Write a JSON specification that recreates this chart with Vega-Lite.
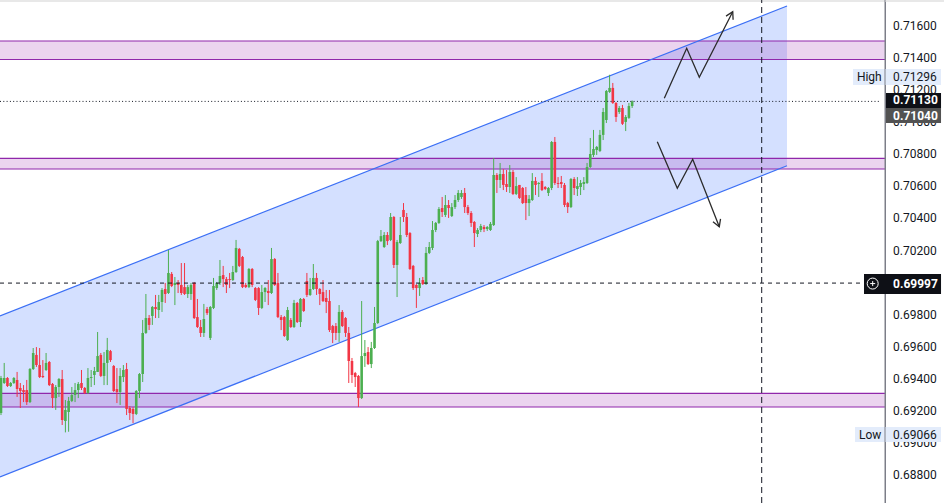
{
  "$schema": "https://vega.github.io/schema/vega-lite/v6.json",
  "width": 885,
  "height": 503,
  "padding": {"left": 0, "top": 0, "right": 59, "bottom": 0},
  "autosize": {"type": "none"},
  "background": "#ffffff",
  "config": {"view": {"stroke": null}, "font": "Roboto", "axis": {"title": null, "grid": false}},
  "datasets": {
    "strip": [{"t": 0.69, "t2": 293.86, "hi": 0.717623, "lo": 0.717498}],
    "channel": [
      {"t": 0.69, "hi": 0.697917, "lo": 0.687877},
      {"t": 245.1, "hi": 0.717249, "lo": 0.70729}
    ],
    "rails": [
      {"t": 0.69, "t2": 245.1, "p": 0.697917, "p2": 0.717249},
      {"t": 0.69, "t2": 245.1, "p": 0.687877, "p2": 0.70729}
    ],
    "zones": [
      {"t": 0.69, "t2": 275.53, "hi": 0.715066, "lo": 0.713913},
      {"t": 0.69, "t2": 275.53, "hi": 0.707752, "lo": 0.707084},
      {"t": 0.69, "t2": 275.53, "hi": 0.693097, "lo": 0.692243}
    ],
    "levels": [
      {"kind": "dash", "t": 0.69, "t2": 269.0, "p": 0.69997, "p2": 0.69997},
      {"kind": "dot", "t": 0.69, "t2": 274.3, "p": 0.7113, "p2": 0.7113},
      {"kind": "vdash", "t": 237.24, "t2": 237.24, "p": 0.686256, "p2": 0.717623}
    ],
    "edge": [{"t": 275.53, "p": 0.686256, "p2": 0.717623}],
    "pricescale": [
      {"p": 0.688, "label": "0.68800", "at": 278.02},
      {"p": 0.69, "label": "0.69000", "at": 278.02},
      {"p": 0.692, "label": "0.69200", "at": 278.02},
      {"p": 0.694, "label": "0.69400", "at": 278.02},
      {"p": 0.696, "label": "0.69600", "at": 278.02},
      {"p": 0.698, "label": "0.69800", "at": 278.02},
      {"p": 0.7, "label": "0.70000", "at": 278.02},
      {"p": 0.702, "label": "0.70200", "at": 278.02},
      {"p": 0.704, "label": "0.70400", "at": 278.02},
      {"p": 0.706, "label": "0.70600", "at": 278.02},
      {"p": 0.708, "label": "0.70800", "at": 278.02},
      {"p": 0.71, "label": "0.71000", "at": 278.02},
      {"p": 0.712, "label": "0.71200", "at": 278.02},
      {"p": 0.714, "label": "0.71400", "at": 278.02},
      {"p": 0.716, "label": "0.71600", "at": 278.02}
    ],
    "arrows": [
      {"g": "up", "k": 1, "t": 206.99, "p": 0.711493},
      {"g": "up", "k": 2, "t": 213.95, "p": 0.714611},
      {"g": "up", "k": 3, "t": 217.86, "p": 0.712803},
      {"g": "up", "k": 4, "t": 228.24, "p": 0.716893},
      {"g": "upHead", "k": 1, "t": 226.16, "p": 0.716619},
      {"g": "upHead", "k": 2, "t": 228.24, "p": 0.716893},
      {"g": "upHead", "k": 3, "t": 228.36, "p": 0.716395},
      {"g": "down", "k": 1, "t": 204.82, "p": 0.708787},
      {"g": "down", "k": 2, "t": 211.03, "p": 0.705881},
      {"g": "down", "k": 3, "t": 215.81, "p": 0.707689},
      {"g": "down", "k": 4, "t": 224.07, "p": 0.703486},
      {"g": "downHead", "k": 1, "t": 224.45, "p": 0.703979},
      {"g": "downHead", "k": 2, "t": 224.07, "p": 0.703486},
      {"g": "downHead", "k": 3, "t": 222.11, "p": 0.703798}
    ],
    "tags": [
      {"kind": "high", "name": "High", "label": "0.71296", "t": 265.6, "t2": 292.93, "hi": 0.71332, "lo": 0.712322, "p": 0.712821, "at": 278.02, "nx": 266.8},
      {"kind": "last", "label": "0.71130", "t": 275.84, "t2": 292.93, "hi": 0.711824, "lo": 0.710888, "p": 0.711356, "at": 278.02},
      {"kind": "line", "label": "0.71040", "t": 275.84, "t2": 292.93, "hi": 0.710888, "lo": 0.709953, "p": 0.71042, "at": 278.02},
      {"kind": "cross", "label": "0.69997", "t": 269.01, "t2": 292.93, "hi": 0.700537, "lo": 0.699289, "p": 0.69991, "at": 278.02, "cx": 271.71, "cp": 0.69994},
      {"kind": "low", "name": "Low", "label": "0.69066", "t": 266.22, "t2": 292.93, "hi": 0.690995, "lo": 0.69006, "p": 0.690527, "at": 278.02, "nx": 267.45}
    ],
    "candles": [
      {"t": 1, "o": 0.69187, "h": 0.69418, "l": 0.69174, "c": 0.69405},
      {"t": 2, "o": 0.69374, "h": 0.69499, "l": 0.69368, "c": 0.69405},
      {"t": 3, "o": 0.69405, "h": 0.69411, "l": 0.69349, "c": 0.69355},
      {"t": 4, "o": 0.69355, "h": 0.6938, "l": 0.69349, "c": 0.69374},
      {"t": 5, "o": 0.69374, "h": 0.69411, "l": 0.69368, "c": 0.69405},
      {"t": 6, "o": 0.69393, "h": 0.69443, "l": 0.69287, "c": 0.69336},
      {"t": 7, "o": 0.69343, "h": 0.69374, "l": 0.69218, "c": 0.69324},
      {"t": 8, "o": 0.6933, "h": 0.69361, "l": 0.69255, "c": 0.69318},
      {"t": 9, "o": 0.6933, "h": 0.69393, "l": 0.69237, "c": 0.69255},
      {"t": 10, "o": 0.69255, "h": 0.69467, "l": 0.69249, "c": 0.69461},
      {"t": 11, "o": 0.69461, "h": 0.69592, "l": 0.69455, "c": 0.69561},
      {"t": 12, "o": 0.69549, "h": 0.69598, "l": 0.69474, "c": 0.69486},
      {"t": 13, "o": 0.69486, "h": 0.69592, "l": 0.69405, "c": 0.69411},
      {"t": 14, "o": 0.69418, "h": 0.69517, "l": 0.69405, "c": 0.69411},
      {"t": 15, "o": 0.69455, "h": 0.69561, "l": 0.69449, "c": 0.69499},
      {"t": 16, "o": 0.69505, "h": 0.69511, "l": 0.69355, "c": 0.69361},
      {"t": 17, "o": 0.69368, "h": 0.69374, "l": 0.69218, "c": 0.6928},
      {"t": 18, "o": 0.6928, "h": 0.69361, "l": 0.69206, "c": 0.69349},
      {"t": 19, "o": 0.69349, "h": 0.69405, "l": 0.69287, "c": 0.69399},
      {"t": 20, "o": 0.69399, "h": 0.69455, "l": 0.69112, "c": 0.69143},
      {"t": 21, "o": 0.69137, "h": 0.69268, "l": 0.69066, "c": 0.69206},
      {"t": 22, "o": 0.69193, "h": 0.69287, "l": 0.6907, "c": 0.69262},
      {"t": 23, "o": 0.69262, "h": 0.69349, "l": 0.69255, "c": 0.69299},
      {"t": 24, "o": 0.69299, "h": 0.69374, "l": 0.69255, "c": 0.6933},
      {"t": 25, "o": 0.6933, "h": 0.6938, "l": 0.6928, "c": 0.69368},
      {"t": 26, "o": 0.69374, "h": 0.69455, "l": 0.6933, "c": 0.69343},
      {"t": 27, "o": 0.69343, "h": 0.69349, "l": 0.69305, "c": 0.69312},
      {"t": 28, "o": 0.69312, "h": 0.69467, "l": 0.69305, "c": 0.69405},
      {"t": 29, "o": 0.69405, "h": 0.69455, "l": 0.69349, "c": 0.69411},
      {"t": 30, "o": 0.69424, "h": 0.69474, "l": 0.69361, "c": 0.69449},
      {"t": 31, "o": 0.69443, "h": 0.69692, "l": 0.69443, "c": 0.69542},
      {"t": 32, "o": 0.69549, "h": 0.69561, "l": 0.69411, "c": 0.69418},
      {"t": 33, "o": 0.69418, "h": 0.69567, "l": 0.69361, "c": 0.69499},
      {"t": 34, "o": 0.69499, "h": 0.69655, "l": 0.69361, "c": 0.6958},
      {"t": 35, "o": 0.69573, "h": 0.6958, "l": 0.69505, "c": 0.69517},
      {"t": 36, "o": 0.6948, "h": 0.69486, "l": 0.69318, "c": 0.69324},
      {"t": 37, "o": 0.69336, "h": 0.69467, "l": 0.69249, "c": 0.69318},
      {"t": 38, "o": 0.69318, "h": 0.69467, "l": 0.69237, "c": 0.69418},
      {"t": 39, "o": 0.69411, "h": 0.69486, "l": 0.6938, "c": 0.69455},
      {"t": 40, "o": 0.69461, "h": 0.69499, "l": 0.69174, "c": 0.69212},
      {"t": 41, "o": 0.69218, "h": 0.6923, "l": 0.69143, "c": 0.69187},
      {"t": 42, "o": 0.69212, "h": 0.69224, "l": 0.69124, "c": 0.69181},
      {"t": 43, "o": 0.69181, "h": 0.6933, "l": 0.69174, "c": 0.69324},
      {"t": 44, "o": 0.69324, "h": 0.69436, "l": 0.6928, "c": 0.6943},
      {"t": 45, "o": 0.6943, "h": 0.69767, "l": 0.6938, "c": 0.69686},
      {"t": 46, "o": 0.69686, "h": 0.69929, "l": 0.6968, "c": 0.69779},
      {"t": 47, "o": 0.69779, "h": 0.69798, "l": 0.69704, "c": 0.69736},
      {"t": 48, "o": 0.69792, "h": 0.69854, "l": 0.69736, "c": 0.69848},
      {"t": 49, "o": 0.69848, "h": 0.69923, "l": 0.69779, "c": 0.69835},
      {"t": 50, "o": 0.69829, "h": 0.69923, "l": 0.69779, "c": 0.69879},
      {"t": 51, "o": 0.69879, "h": 0.69966, "l": 0.69817, "c": 0.69954},
      {"t": 52, "o": 0.6996, "h": 0.69998, "l": 0.69873, "c": 0.69929},
      {"t": 53, "o": 0.69935, "h": 0.70203, "l": 0.69929, "c": 0.7006},
      {"t": 54, "o": 0.70054, "h": 0.70066, "l": 0.69972, "c": 0.69979},
      {"t": 55, "o": 0.69985, "h": 0.70035, "l": 0.6986, "c": 0.69998},
      {"t": 56, "o": 0.69998, "h": 0.70016, "l": 0.69935, "c": 0.69985},
      {"t": 57, "o": 0.69985, "h": 0.70122, "l": 0.69923, "c": 0.69935},
      {"t": 58, "o": 0.69972, "h": 0.70122, "l": 0.69923, "c": 0.69929},
      {"t": 59, "o": 0.69929, "h": 0.69985, "l": 0.69904, "c": 0.69972},
      {"t": 60, "o": 0.69929, "h": 0.69998, "l": 0.69892, "c": 0.69985},
      {"t": 61, "o": 0.69998, "h": 0.70004, "l": 0.69773, "c": 0.69779},
      {"t": 62, "o": 0.69785, "h": 0.69898, "l": 0.69717, "c": 0.69723},
      {"t": 63, "o": 0.69723, "h": 0.69767, "l": 0.69661, "c": 0.69686},
      {"t": 64, "o": 0.69686, "h": 0.69867, "l": 0.69661, "c": 0.69773},
      {"t": 65, "o": 0.69835, "h": 0.69848, "l": 0.69798, "c": 0.6981},
      {"t": 66, "o": 0.69655, "h": 0.69854, "l": 0.69642, "c": 0.69848},
      {"t": 67, "o": 0.69842, "h": 0.70029, "l": 0.69835, "c": 0.69979},
      {"t": 68, "o": 0.69966, "h": 0.70004, "l": 0.69954, "c": 0.69998},
      {"t": 69, "o": 0.69998, "h": 0.70141, "l": 0.69985, "c": 0.70041},
      {"t": 70, "o": 0.70047, "h": 0.70104, "l": 0.69972, "c": 0.70022},
      {"t": 71, "o": 0.70022, "h": 0.70035, "l": 0.69935, "c": 0.69985},
      {"t": 72, "o": 0.70022, "h": 0.7006, "l": 0.69966, "c": 0.70016},
      {"t": 73, "o": 0.70016, "h": 0.70104, "l": 0.7001, "c": 0.70066},
      {"t": 74, "o": 0.70066, "h": 0.70266, "l": 0.7006, "c": 0.70216},
      {"t": 75, "o": 0.7021, "h": 0.70216, "l": 0.70097, "c": 0.70104},
      {"t": 76, "o": 0.7016, "h": 0.70166, "l": 0.69966, "c": 0.69972},
      {"t": 77, "o": 0.69985, "h": 0.69998, "l": 0.69966, "c": 0.69972},
      {"t": 78, "o": 0.69972, "h": 0.70091, "l": 0.69966, "c": 0.70085},
      {"t": 79, "o": 0.70085, "h": 0.70091, "l": 0.69972, "c": 0.69985},
      {"t": 80, "o": 0.69966, "h": 0.69972, "l": 0.69885, "c": 0.69892},
      {"t": 81, "o": 0.69966, "h": 0.69972, "l": 0.69798, "c": 0.69842},
      {"t": 82, "o": 0.69842, "h": 0.69985, "l": 0.69835, "c": 0.69941},
      {"t": 83, "o": 0.69941, "h": 0.69972, "l": 0.69879, "c": 0.69966},
      {"t": 84, "o": 0.69948, "h": 0.70016, "l": 0.6986, "c": 0.69935},
      {"t": 85, "o": 0.69935, "h": 0.70216, "l": 0.69929, "c": 0.70147},
      {"t": 86, "o": 0.70147, "h": 0.70153, "l": 0.69979, "c": 0.69985},
      {"t": 87, "o": 0.69998, "h": 0.7006, "l": 0.69779, "c": 0.69785},
      {"t": 88, "o": 0.69785, "h": 0.69798, "l": 0.69704, "c": 0.69767},
      {"t": 89, "o": 0.69785, "h": 0.69792, "l": 0.69661, "c": 0.69667},
      {"t": 90, "o": 0.69642, "h": 0.69848, "l": 0.69636, "c": 0.69829},
      {"t": 91, "o": 0.69767, "h": 0.69779, "l": 0.69717, "c": 0.69723},
      {"t": 92, "o": 0.69723, "h": 0.69892, "l": 0.69717, "c": 0.69873},
      {"t": 93, "o": 0.69873, "h": 0.69879, "l": 0.69748, "c": 0.69754},
      {"t": 94, "o": 0.69754, "h": 0.69904, "l": 0.69723, "c": 0.69898},
      {"t": 95, "o": 0.69898, "h": 0.69904, "l": 0.69817, "c": 0.69823},
      {"t": 96, "o": 0.7001, "h": 0.7006, "l": 0.6991, "c": 0.69923},
      {"t": 97, "o": 0.69923, "h": 0.70029, "l": 0.69917, "c": 0.6996},
      {"t": 98, "o": 0.6996, "h": 0.70116, "l": 0.69954, "c": 0.70029},
      {"t": 99, "o": 0.70029, "h": 0.7006, "l": 0.69923, "c": 0.6996},
      {"t": 100, "o": 0.6996, "h": 0.69966, "l": 0.6986, "c": 0.69929},
      {"t": 101, "o": 0.69941, "h": 0.70016, "l": 0.69879, "c": 0.69885},
      {"t": 102, "o": 0.69904, "h": 0.69954, "l": 0.6981, "c": 0.69879},
      {"t": 103, "o": 0.69885, "h": 0.69954, "l": 0.69692, "c": 0.69704},
      {"t": 104, "o": 0.69729, "h": 0.69736, "l": 0.69623, "c": 0.69686},
      {"t": 105, "o": 0.69729, "h": 0.69748, "l": 0.69642, "c": 0.69686},
      {"t": 106, "o": 0.69686, "h": 0.6986, "l": 0.6963, "c": 0.69817},
      {"t": 107, "o": 0.69817, "h": 0.69829, "l": 0.69723, "c": 0.69729},
      {"t": 108, "o": 0.69779, "h": 0.69785, "l": 0.69661, "c": 0.69686},
      {"t": 109, "o": 0.69686, "h": 0.69723, "l": 0.69374, "c": 0.69511},
      {"t": 110, "o": 0.69511, "h": 0.6953, "l": 0.69374, "c": 0.69424},
      {"t": 111, "o": 0.69436, "h": 0.69443, "l": 0.69349, "c": 0.69411},
      {"t": 112, "o": 0.69418, "h": 0.69424, "l": 0.69224, "c": 0.6928},
      {"t": 113, "o": 0.6928, "h": 0.69885, "l": 0.69274, "c": 0.69542},
      {"t": 114, "o": 0.69542, "h": 0.69642, "l": 0.69474, "c": 0.69561},
      {"t": 115, "o": 0.69567, "h": 0.69598, "l": 0.69486, "c": 0.69492},
      {"t": 116, "o": 0.69492, "h": 0.6963, "l": 0.69467, "c": 0.69592},
      {"t": 117, "o": 0.69592, "h": 0.69848, "l": 0.69586, "c": 0.69748},
      {"t": 118, "o": 0.69748, "h": 0.70266, "l": 0.69742, "c": 0.70259},
      {"t": 119, "o": 0.70259, "h": 0.70328, "l": 0.70253, "c": 0.7029},
      {"t": 120, "o": 0.70222, "h": 0.70315, "l": 0.70216, "c": 0.70297},
      {"t": 121, "o": 0.70297, "h": 0.70315, "l": 0.70234, "c": 0.70259},
      {"t": 122, "o": 0.70266, "h": 0.70434, "l": 0.70259, "c": 0.70409},
      {"t": 123, "o": 0.70409, "h": 0.70415, "l": 0.70091, "c": 0.7011},
      {"t": 124, "o": 0.7011, "h": 0.70266, "l": 0.6991, "c": 0.70253},
      {"t": 125, "o": 0.70247, "h": 0.70409, "l": 0.70241, "c": 0.70297},
      {"t": 126, "o": 0.70453, "h": 0.70496, "l": 0.70378, "c": 0.70409},
      {"t": 127, "o": 0.70409, "h": 0.70434, "l": 0.70284, "c": 0.70297},
      {"t": 128, "o": 0.70309, "h": 0.70315, "l": 0.70079, "c": 0.70085},
      {"t": 129, "o": 0.70104, "h": 0.7011, "l": 0.69954, "c": 0.69966},
      {"t": 130, "o": 0.69985, "h": 0.69991, "l": 0.69842, "c": 0.69966},
      {"t": 131, "o": 0.69966, "h": 0.70029, "l": 0.69917, "c": 0.69998},
      {"t": 132, "o": 0.70016, "h": 0.70035, "l": 0.69985, "c": 0.69991},
      {"t": 133, "o": 0.69991, "h": 0.70222, "l": 0.69985, "c": 0.70185},
      {"t": 134, "o": 0.70185, "h": 0.70253, "l": 0.70178, "c": 0.70222},
      {"t": 135, "o": 0.70216, "h": 0.70384, "l": 0.70203, "c": 0.70328},
      {"t": 136, "o": 0.70328, "h": 0.70378, "l": 0.70315, "c": 0.70372},
      {"t": 137, "o": 0.70372, "h": 0.70471, "l": 0.70366, "c": 0.70459},
      {"t": 138, "o": 0.70465, "h": 0.70534, "l": 0.70409, "c": 0.7044},
      {"t": 139, "o": 0.70422, "h": 0.70546, "l": 0.70409, "c": 0.70484},
      {"t": 140, "o": 0.70484, "h": 0.70515, "l": 0.70403, "c": 0.70465},
      {"t": 141, "o": 0.70415, "h": 0.70496, "l": 0.70409, "c": 0.70471},
      {"t": 142, "o": 0.70471, "h": 0.70546, "l": 0.70459, "c": 0.70515},
      {"t": 143, "o": 0.70515, "h": 0.70577, "l": 0.70503, "c": 0.70559},
      {"t": 144, "o": 0.70534, "h": 0.70577, "l": 0.70522, "c": 0.70559},
      {"t": 145, "o": 0.70559, "h": 0.7059, "l": 0.70434, "c": 0.70471},
      {"t": 146, "o": 0.70471, "h": 0.70484, "l": 0.70422, "c": 0.70434},
      {"t": 147, "o": 0.70434, "h": 0.70446, "l": 0.70347, "c": 0.70372},
      {"t": 148, "o": 0.70378, "h": 0.70384, "l": 0.70222, "c": 0.70309},
      {"t": 149, "o": 0.70303, "h": 0.7034, "l": 0.70284, "c": 0.70328},
      {"t": 150, "o": 0.70328, "h": 0.70366, "l": 0.70315, "c": 0.70353},
      {"t": 151, "o": 0.70347, "h": 0.70359, "l": 0.70315, "c": 0.70334},
      {"t": 152, "o": 0.70334, "h": 0.70353, "l": 0.70322, "c": 0.70347},
      {"t": 153, "o": 0.70328, "h": 0.70378, "l": 0.70322, "c": 0.70366},
      {"t": 154, "o": 0.70359, "h": 0.70777, "l": 0.70353, "c": 0.70671},
      {"t": 155, "o": 0.70671, "h": 0.70683, "l": 0.70559, "c": 0.7064},
      {"t": 156, "o": 0.7064, "h": 0.70746, "l": 0.7059, "c": 0.70677},
      {"t": 157, "o": 0.70677, "h": 0.70708, "l": 0.70577, "c": 0.70609},
      {"t": 158, "o": 0.70615, "h": 0.70702, "l": 0.70565, "c": 0.70596},
      {"t": 159, "o": 0.70596, "h": 0.70733, "l": 0.70559, "c": 0.7069},
      {"t": 160, "o": 0.7069, "h": 0.70702, "l": 0.70546, "c": 0.70553},
      {"t": 161, "o": 0.70553, "h": 0.70658, "l": 0.70546, "c": 0.70602},
      {"t": 162, "o": 0.70609, "h": 0.70609, "l": 0.70522, "c": 0.70528},
      {"t": 163, "o": 0.7059, "h": 0.70596, "l": 0.7049, "c": 0.70496},
      {"t": 164, "o": 0.70546, "h": 0.70596, "l": 0.7039, "c": 0.70496},
      {"t": 165, "o": 0.70496, "h": 0.70546, "l": 0.70415, "c": 0.70522},
      {"t": 166, "o": 0.70515, "h": 0.70683, "l": 0.70509, "c": 0.70634},
      {"t": 167, "o": 0.70634, "h": 0.70658, "l": 0.70546, "c": 0.70609},
      {"t": 168, "o": 0.70615, "h": 0.70627, "l": 0.70534, "c": 0.70621},
      {"t": 169, "o": 0.70634, "h": 0.70683, "l": 0.70571, "c": 0.70577},
      {"t": 170, "o": 0.70596, "h": 0.70602, "l": 0.70577, "c": 0.70584},
      {"t": 171, "o": 0.70559, "h": 0.70596, "l": 0.7054, "c": 0.7059},
      {"t": 172, "o": 0.7059, "h": 0.70883, "l": 0.70577, "c": 0.70877},
      {"t": 173, "o": 0.70877, "h": 0.70908, "l": 0.70609, "c": 0.70621},
      {"t": 174, "o": 0.70621, "h": 0.70658, "l": 0.7059, "c": 0.70615},
      {"t": 175, "o": 0.70627, "h": 0.70665, "l": 0.7059, "c": 0.70615},
      {"t": 176, "o": 0.70609, "h": 0.70621, "l": 0.70471, "c": 0.70484},
      {"t": 177, "o": 0.70496, "h": 0.70503, "l": 0.70434, "c": 0.70471},
      {"t": 178, "o": 0.70471, "h": 0.70652, "l": 0.70465, "c": 0.70646},
      {"t": 179, "o": 0.70646, "h": 0.70658, "l": 0.70546, "c": 0.7059},
      {"t": 180, "o": 0.70584, "h": 0.70658, "l": 0.7054, "c": 0.70602},
      {"t": 181, "o": 0.70596, "h": 0.7064, "l": 0.70546, "c": 0.70621},
      {"t": 182, "o": 0.70615, "h": 0.70658, "l": 0.70577, "c": 0.70627},
      {"t": 183, "o": 0.70621, "h": 0.70746, "l": 0.70615, "c": 0.70721},
      {"t": 184, "o": 0.70721, "h": 0.70902, "l": 0.70715, "c": 0.70802},
      {"t": 185, "o": 0.70796, "h": 0.70952, "l": 0.70783, "c": 0.70833},
      {"t": 186, "o": 0.70827, "h": 0.70852, "l": 0.70796, "c": 0.70846},
      {"t": 187, "o": 0.70821, "h": 0.70952, "l": 0.70814, "c": 0.70921},
      {"t": 188, "o": 0.70921, "h": 0.71089, "l": 0.70889, "c": 0.71064},
      {"t": 189, "o": 0.71014, "h": 0.71201, "l": 0.70995, "c": 0.71195},
      {"t": 190, "o": 0.71189, "h": 0.71296, "l": 0.71183, "c": 0.71214},
      {"t": 191, "o": 0.71214, "h": 0.71245, "l": 0.71114, "c": 0.7112},
      {"t": 192, "o": 0.7112, "h": 0.71126, "l": 0.71002, "c": 0.71033},
      {"t": 193, "o": 0.71064, "h": 0.71101, "l": 0.71052, "c": 0.71089},
      {"t": 194, "o": 0.71089, "h": 0.71108, "l": 0.70983, "c": 0.7099},
      {"t": 195, "o": 0.71002, "h": 0.71045, "l": 0.70945, "c": 0.71033},
      {"t": 196, "o": 0.71027, "h": 0.7112, "l": 0.71021, "c": 0.71101},
      {"t": 197, "o": 0.71101, "h": 0.71136, "l": 0.71089, "c": 0.7113}
    ]
  },
  "layer": [
    {
      "data": {"name": "strip"},
      "mark": {"type": "rect", "color": "#e8e8e8"},
      "encoding": {
        "x": {"field": "t", "type": "quantitative", "scale": {"domain": [0.69, 275.53], "nice": false, "zero": false, "padding": 0}, "axis": null},
        "x2": {"field": "t2"},
        "y": {
          "field": "hi",
          "type": "quantitative",
          "title": null,
          "scale": {"domain": [0.686256, 0.717623], "nice": false, "zero": false},
          "axis": {"orient": "right", "title": null, "labels": false, "ticks": false, "grid": false, "domainColor": "#7c7f88", "domainWidth": 1}
        },
        "y2": {"field": "lo"}
      }
    },
    {
      "data": {"name": "pricescale"},
      "mark": {"type": "text", "align": "left", "baseline": "middle", "font": "Roboto", "fontSize": 12, "color": "#131722"},
      "encoding": {
        "x": {"field": "at", "type": "quantitative", "scale": {"domain": [0.69, 275.53], "nice": false, "zero": false, "padding": 0}, "axis": null},
        "y": {"field": "p", "type": "quantitative", "title": null, "scale": {"domain": [0.686256, 0.717623], "nice": false, "zero": false}},
        "text": {"field": "label"}
      }
    },
    {
      "data": {"name": "channel"},
      "mark": {"type": "area", "color": "#2962ff", "opacity": 0.2},
      "encoding": {
        "x": {"field": "t", "type": "quantitative", "scale": {"domain": [0.69, 275.53], "nice": false, "zero": false, "padding": 0}, "axis": null},
        "y": {"field": "hi", "type": "quantitative", "title": null, "scale": {"domain": [0.686256, 0.717623], "nice": false, "zero": false}},
        "y2": {"field": "lo"}
      }
    },
    {
      "data": {"name": "zones"},
      "mark": {"type": "rect", "color": "#9c27b0", "opacity": 0.2},
      "encoding": {
        "x": {"field": "t", "type": "quantitative", "scale": {"domain": [0.69, 275.53], "nice": false, "zero": false, "padding": 0}, "axis": null},
        "x2": {"field": "t2"},
        "y": {"field": "hi", "type": "quantitative", "title": null, "scale": {"domain": [0.686256, 0.717623], "nice": false, "zero": false}},
        "y2": {"field": "lo"}
      }
    },
    {
      "data": {"name": "zones"},
      "mark": {"type": "rule", "color": "#9027ab", "strokeWidth": 1.2},
      "encoding": {
        "x": {"field": "t", "type": "quantitative", "scale": {"domain": [0.69, 275.53], "nice": false, "zero": false, "padding": 0}, "axis": null},
        "x2": {"field": "t2"},
        "y": {"field": "hi", "type": "quantitative", "title": null, "scale": {"domain": [0.686256, 0.717623], "nice": false, "zero": false}}
      }
    },
    {
      "data": {"name": "zones"},
      "mark": {"type": "rule", "color": "#9027ab", "strokeWidth": 1.2},
      "encoding": {
        "x": {"field": "t", "type": "quantitative", "scale": {"domain": [0.69, 275.53], "nice": false, "zero": false, "padding": 0}, "axis": null},
        "x2": {"field": "t2"},
        "y": {"field": "lo", "type": "quantitative", "title": null, "scale": {"domain": [0.686256, 0.717623], "nice": false, "zero": false}}
      }
    },
    {
      "data": {"name": "rails"},
      "mark": {"type": "rule", "color": "#3b6ff5", "strokeWidth": 1.2},
      "encoding": {
        "x": {"field": "t", "type": "quantitative", "scale": {"domain": [0.69, 275.53], "nice": false, "zero": false, "padding": 0}, "axis": null},
        "x2": {"field": "t2"},
        "y": {"field": "p", "type": "quantitative", "title": null, "scale": {"domain": [0.686256, 0.717623], "nice": false, "zero": false}},
        "y2": {"field": "p2"}
      }
    },
    {
      "data": {"name": "candles"},
      "mark": {"type": "rule", "strokeWidth": 1},
      "encoding": {
        "x": {"field": "t", "type": "quantitative", "scale": {"domain": [0.69, 275.53], "nice": false, "zero": false, "padding": 0}, "axis": null},
        "y": {"field": "h", "type": "quantitative", "title": null, "scale": {"domain": [0.686256, 0.717623], "nice": false, "zero": false}},
        "y2": {"field": "l"},
        "color": {"condition": {"test": "datum.c >= datum.o", "value": "#4caf50"}, "value": "#f23645"}
      }
    },
    {
      "data": {"name": "candles"},
      "mark": {"type": "bar", "size": 2.6},
      "encoding": {
        "x": {"field": "t", "type": "quantitative", "scale": {"domain": [0.69, 275.53], "nice": false, "zero": false, "padding": 0}, "axis": null},
        "y": {"field": "o", "type": "quantitative", "title": null, "scale": {"domain": [0.686256, 0.717623], "nice": false, "zero": false}},
        "y2": {"field": "c"},
        "color": {"condition": {"test": "datum.c >= datum.o", "value": "#4caf50"}, "value": "#f23645"}
      }
    },
    {
      "data": {"name": "levels"},
      "mark": {"type": "rule", "color": "#131722", "strokeWidth": 1},
      "encoding": {
        "x": {"field": "t", "type": "quantitative", "scale": {"domain": [0.69, 275.53], "nice": false, "zero": false, "padding": 0}, "axis": null},
        "x2": {"field": "t2"},
        "y": {"field": "p", "type": "quantitative", "title": null, "scale": {"domain": [0.686256, 0.717623], "nice": false, "zero": false}},
        "y2": {"field": "p2"},
        "strokeDash": {"field": "kind", "type": "nominal", "scale": {"domain": ["dash", "dot", "vdash"], "range": [[4, 4], [1, 2.3], [6, 4]]}, "legend": null}
      }
    },
    {
      "data": {"name": "arrows"},
      "mark": {"type": "line", "color": "#2b2b2b", "strokeWidth": 1.3, "strokeJoin": "miter"},
      "encoding": {
        "x": {"field": "t", "type": "quantitative", "scale": {"domain": [0.69, 275.53], "nice": false, "zero": false, "padding": 0}, "axis": null},
        "y": {"field": "p", "type": "quantitative", "title": null, "scale": {"domain": [0.686256, 0.717623], "nice": false, "zero": false}},
        "detail": {"field": "g", "type": "nominal"},
        "order": {"field": "k", "type": "quantitative"}
      }
    },
    {
      "data": {"name": "tags"},
      "transform": [{"filter": "datum.kind == 'high' || datum.kind == 'low'"}],
      "mark": {"type": "rect", "color": "#e3ecfb"},
      "encoding": {
        "x": {"field": "t", "type": "quantitative", "scale": {"domain": [0.69, 275.53], "nice": false, "zero": false, "padding": 0}, "axis": null},
        "x2": {"field": "t2"},
        "y": {"field": "hi", "type": "quantitative", "title": null, "scale": {"domain": [0.686256, 0.717623], "nice": false, "zero": false}},
        "y2": {"field": "lo"}
      }
    },
    {
      "data": {"name": "edge"},
      "mark": {"type": "rule", "color": "#7c7f88", "strokeWidth": 1},
      "encoding": {
        "x": {"field": "t", "type": "quantitative", "scale": {"domain": [0.69, 275.53], "nice": false, "zero": false, "padding": 0}, "axis": null},
        "y": {"field": "p", "type": "quantitative", "title": null, "scale": {"domain": [0.686256, 0.717623], "nice": false, "zero": false}},
        "y2": {"field": "p2"}
      }
    },
    {
      "data": {"name": "tags"},
      "transform": [{"filter": "datum.kind != 'high' && datum.kind != 'low'"}],
      "mark": {"type": "rect"},
      "encoding": {
        "x": {"field": "t", "type": "quantitative", "scale": {"domain": [0.69, 275.53], "nice": false, "zero": false, "padding": 0}, "axis": null},
        "x2": {"field": "t2"},
        "y": {"field": "hi", "type": "quantitative", "title": null, "scale": {"domain": [0.686256, 0.717623], "nice": false, "zero": false}},
        "y2": {"field": "lo"},
        "color": {"condition": {"test": "datum.kind == 'line'", "value": "#525252"}, "value": "#0e1016"}
      }
    },
    {
      "data": {"name": "tags"},
      "transform": [{"filter": "datum.kind == 'high' || datum.kind == 'low'"}],
      "mark": {"type": "text", "align": "left", "baseline": "middle", "font": "Roboto", "fontSize": 12, "color": "#131722"},
      "encoding": {
        "x": {"field": "at", "type": "quantitative", "scale": {"domain": [0.69, 275.53], "nice": false, "zero": false, "padding": 0}, "axis": null},
        "y": {"field": "p", "type": "quantitative", "title": null, "scale": {"domain": [0.686256, 0.717623], "nice": false, "zero": false}},
        "text": {"field": "label"}
      }
    },
    {
      "data": {"name": "tags"},
      "transform": [{"filter": "datum.kind == 'high' || datum.kind == 'low'"}],
      "mark": {"type": "text", "align": "left", "baseline": "middle", "font": "Roboto", "fontSize": 12, "color": "#131722"},
      "encoding": {
        "x": {"field": "nx", "type": "quantitative", "scale": {"domain": [0.69, 275.53], "nice": false, "zero": false, "padding": 0}, "axis": null},
        "y": {"field": "p", "type": "quantitative", "title": null, "scale": {"domain": [0.686256, 0.717623], "nice": false, "zero": false}},
        "text": {"field": "name"}
      }
    },
    {
      "data": {"name": "tags"},
      "transform": [{"filter": "datum.kind != 'high' && datum.kind != 'low'"}],
      "mark": {"type": "text", "align": "left", "baseline": "middle", "font": "Roboto", "fontSize": 12, "fontWeight": "bold", "color": "#ffffff"},
      "encoding": {
        "x": {"field": "at", "type": "quantitative", "scale": {"domain": [0.69, 275.53], "nice": false, "zero": false, "padding": 0}, "axis": null},
        "y": {"field": "p", "type": "quantitative", "title": null, "scale": {"domain": [0.686256, 0.717623], "nice": false, "zero": false}},
        "text": {"field": "label"}
      }
    },
    {
      "data": {"name": "tags"},
      "transform": [{"filter": "datum.kind == 'cross'"}],
      "mark": {"type": "point", "shape": "circle", "filled": false, "size": 121, "stroke": "#ffffff", "strokeWidth": 1, "opacity": 1},
      "encoding": {
        "x": {"field": "cx", "type": "quantitative", "scale": {"domain": [0.69, 275.53], "nice": false, "zero": false, "padding": 0}, "axis": null},
        "y": {"field": "cp", "type": "quantitative", "title": null, "scale": {"domain": [0.686256, 0.717623], "nice": false, "zero": false}}
      }
    },
    {
      "data": {"name": "tags"},
      "transform": [{"filter": "datum.kind == 'cross'"}],
      "mark": {"type": "point", "shape": "M-1,0H1M0,-1V1", "filled": false, "size": 25, "stroke": "#ffffff", "strokeWidth": 1, "opacity": 1},
      "encoding": {
        "x": {"field": "cx", "type": "quantitative", "scale": {"domain": [0.69, 275.53], "nice": false, "zero": false, "padding": 0}, "axis": null},
        "y": {"field": "cp", "type": "quantitative", "title": null, "scale": {"domain": [0.686256, 0.717623], "nice": false, "zero": false}}
      }
    }
  ]
}
